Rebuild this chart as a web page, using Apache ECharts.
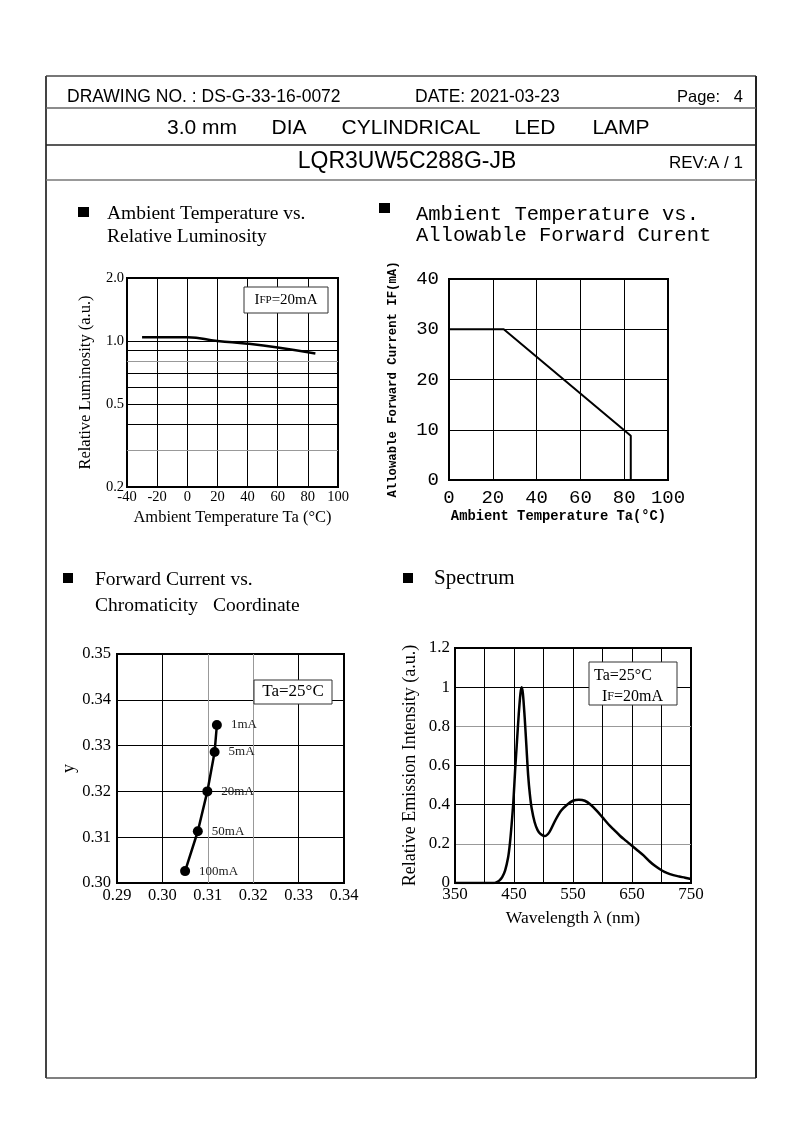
<!DOCTYPE html>
<html><head><meta charset="utf-8">
<script src="https://cdn.jsdelivr.net/npm/echarts@6/dist/echarts.min.js"></script>
<style>html,body{margin:0;padding:0;background:#fff}#c{width:794px;height:1123px}</style>
</head><body><div id="c"></div>
<script>
// ---- Chart 1: Ambient Temperature vs. Relative Luminosity ----
const lumTemp = [-30, 0, 20, 40, 60, 85];
const lumValue = [1.04, 1.04, 1.0, 0.97, 0.93, 0.87];
const lumTickLabels = [0.2, 0.5, 1.0, 2.0];
const lumGridDark = [0.4, 0.5, 0.6, 0.7, 0.9, 1.0];
const lumGridLight = [0.3, 0.8];
// ---- Chart 2: Ambient Temperature vs. Allowable Forward Current ----
const derateTemp = [0, 25, 83, 83];
const derateCurrent = [30, 30, 8.8, 0];
// ---- Chart 3: Forward Current vs. Chromaticity Coordinate ----
const chromaX = [0.3120, 0.3115, 0.3099, 0.3078, 0.3050];
const chromaY = [0.3345, 0.3286, 0.3200, 0.3113, 0.3026];
const chromaCurrent = ['1mA', '5mA', '20mA', '50mA', '100mA'];
// ---- Chart 4: Spectrum ----
const wavelength = [350, 400, 415, 420, 425, 430, 435, 440, 443, 446, 449, 452, 455, 458, 461, 463, 465, 468, 471, 474, 477, 480, 485, 490, 495, 502, 510, 520, 530, 540, 550, 560, 570, 580, 590, 600, 610, 620, 630, 640, 650, 660, 670, 680, 690, 700, 710, 720, 730, 740, 750];
const intensity = [0, 0, 0, 0.003, 0.012, 0.03, 0.065, 0.13, 0.2, 0.3, 0.42, 0.58, 0.72, 0.86, 0.97, 1.0, 0.97, 0.85, 0.7, 0.55, 0.45, 0.38, 0.31, 0.27, 0.25, 0.24, 0.26, 0.32, 0.37, 0.40, 0.42, 0.425, 0.42, 0.40, 0.37, 0.335, 0.30, 0.27, 0.24, 0.215, 0.19, 0.165, 0.14, 0.11, 0.085, 0.065, 0.05, 0.04, 0.033, 0.027, 0.02];

const SERIF = "'Liberation Serif','Times New Roman',serif";
const MONO = "'Liberation Mono','Courier New',monospace";
const SANS = "'Liberation Sans',Arial,sans-serif";
const zip = (a, b) => a.map((v, i) => [v, b[i]]);

const chart = echarts.init(document.getElementById('c'), null, {renderer: 'canvas'});

function gridBox(left, top, width, height) {
  return {left, top, width, height, show: true, borderColor: '#000', borderWidth: 2, backgroundColor: '#fff', containLabel: false, outerBoundsMode: 'none'};
}
const noLine = {show: false};

const fr = (x1, y1, x2, y2, color, w) => ({type: 'line', shape: {x1, y1, x2, y2}, style: {stroke: color, lineWidth: w}, silent: true, z: 50});
const txt = (text, x, y, font, align, extra) => Object.assign({type: 'text', x, y, style: {text, font, fill: '#000', align: align || 'left', verticalAlign: 'middle'}, silent: true, z: 60}, extra || {});
const box = (x, y, w, h) => ({type: 'rect', shape: {x, y, width: w, height: h}, style: {fill: '#fff', stroke: '#333', lineWidth: 1}, silent: true, z: 90});

const option = {
  animation: false,
  backgroundColor: '#fff',
  grid: [
    gridBox(127, 278, 211, 209),
    gridBox(449, 279, 219, 201),
    gridBox(117, 654, 227, 229),
    gridBox(455, 648, 236, 235)
  ],
  xAxis: [
    {type: 'value', gridIndex: 0, min: -40, max: 100, interval: 20,
     axisLine: noLine, axisTick: noLine,
     axisLabel: {color: '#000', fontFamily: SERIF, fontSize: 14.5, margin: 3},
     splitLine: {show: true, lineStyle: {color: '#000', width: 1}},
     name: 'Ambient Temperature Ta (°C)', nameLocation: 'middle', nameGap: 22,
     nameTextStyle: {color: '#000', fontFamily: SERIF, fontSize: 16.5}},
    {type: 'value', gridIndex: 1, min: 0, max: 100, interval: 20,
     axisLine: noLine, axisTick: noLine,
     axisLabel: {color: '#000', fontFamily: MONO, fontSize: 19, margin: 8},
     splitLine: {show: true, lineStyle: {color: '#000', width: 1}},
     name: 'Ambient Temperature Ta(°C)', nameLocation: 'middle', nameGap: 30,
     nameTextStyle: {color: '#000', fontFamily: MONO, fontSize: 13.8, fontWeight: 'bold'}},
    {type: 'value', gridIndex: 2, min: 0.29, max: 0.34, interval: 0.01,
     axisLine: noLine, axisTick: noLine,
     axisLabel: {color: '#000', fontFamily: SERIF, fontSize: 16.5, margin: 4, formatter: v => v.toFixed(2)},
     splitLine: {show: true, lineStyle: {color: ['#000', '#000', '#999', '#999', '#000', '#000'], width: 1}}},
    {type: 'value', gridIndex: 3, min: 350, max: 750, interval: 50,
     axisLine: noLine, axisTick: noLine,
     axisLabel: {color: '#000', fontFamily: SERIF, fontSize: 17, margin: 3, formatter: v => ((v - 350) % 100 === 0 ? String(v) : '')},
     splitLine: {show: true, lineStyle: {color: '#000', width: 1}},
     name: 'Wavelength λ (nm)', nameLocation: 'middle', nameGap: 26,
     nameTextStyle: {color: '#000', fontFamily: SERIF, fontSize: 17.5}}
  ],
  yAxis: [
    {type: 'log', gridIndex: 0, min: 0.2, max: 2, logBase: 10,
     axisLine: noLine, axisTick: noLine, axisLabel: {show: false}, splitLine: {show: false},
     name: 'Relative Luminosity (a.u.)', nameLocation: 'middle', nameRotate: 90, nameGap: 33,
     nameTextStyle: {color: '#000', fontFamily: SERIF, fontSize: 16.5}},
    {type: 'value', gridIndex: 1, min: 0, max: 40, interval: 10,
     axisLine: noLine, axisTick: noLine,
     axisLabel: {color: '#000', fontFamily: MONO, fontSize: 19, margin: 10},
     splitLine: {show: true, lineStyle: {color: '#000', width: 1}},
     name: 'Allowable Forward Current IF(mA)', nameLocation: 'middle', nameRotate: 90, nameGap: 50,
     nameTextStyle: {color: '#000', fontFamily: MONO, fontSize: 12.3, fontWeight: 'bold'}},
    {type: 'value', gridIndex: 2, min: 0.30, max: 0.35, interval: 0.01,
     axisLine: noLine, axisTick: noLine,
     axisLabel: {color: '#000', fontFamily: SERIF, fontSize: 16.5, margin: 6, formatter: v => v.toFixed(2)},
     splitLine: {show: true, lineStyle: {color: '#000', width: 1}},
     name: 'y', nameLocation: 'middle', nameRotate: 90, nameGap: 39,
     nameTextStyle: {color: '#000', fontFamily: SERIF, fontSize: 18}},
    {type: 'value', gridIndex: 3, min: 0, max: 1.2, interval: 0.2,
     axisLine: noLine, axisTick: noLine,
     axisLabel: {color: '#000', fontFamily: SERIF, fontSize: 17, margin: 5, formatter: v => String(parseFloat(v.toFixed(1)))},
     splitLine: {show: true, lineStyle: {color: ['#000', '#999', '#000', '#000', '#999', '#000', '#000'], width: 1}},
     name: 'Relative Emission Intensity (a.u.)', nameLocation: 'middle', nameRotate: 90, nameGap: 36,
     nameTextStyle: {color: '#000', fontFamily: SERIF, fontSize: 18}}
  ],
  series: [
    {type: 'line', xAxisIndex: 0, yAxisIndex: 0, data: zip(lumTemp, lumValue), smooth: true,
     symbol: 'none', lineStyle: {color: '#000', width: 2.5}, z: 5,
     markLine: {silent: true, symbol: ['none', 'none'], animation: false, z: 3,
       label: {show: false},
       data: [
         ...lumGridDark.map(v => ({yAxis: v, lineStyle: {color: '#000', width: 1, type: 'solid'}})),
         ...lumGridLight.map(v => ({yAxis: v, lineStyle: {color: '#999', width: 1, type: 'solid'}})),
         ...lumTickLabels.map(v => ({yAxis: v, lineStyle: {color: 'rgba(0,0,0,0)', width: 1, type: 'solid'},
           label: {show: true, position: 'start', distance: 3, formatter: v.toFixed(1), color: '#000', fontFamily: SERIF, fontSize: 14.5}}))
       ]}},
    {type: 'line', xAxisIndex: 1, yAxisIndex: 1, data: zip(derateTemp, derateCurrent),
     symbol: 'none', lineStyle: {color: '#000', width: 2}},
    {type: 'line', xAxisIndex: 2, yAxisIndex: 2, data: zip(chromaX, chromaY),
     symbol: 'circle', symbolSize: 10, itemStyle: {color: '#000'}, lineStyle: {color: '#000', width: 2.5},
     label: {show: true, position: 'right', color: '#222', fontFamily: SERIF, fontSize: 13,
       formatter: p => chromaCurrent[p.dataIndex],
       distance: 9}},
    {type: 'line', xAxisIndex: 3, yAxisIndex: 3, data: zip(wavelength, intensity), smooth: 0.3,
     symbol: 'none', lineStyle: {color: '#000', width: 2.5}}
  ],
  graphic: {elements: [
    // page frame
    fr(46, 76, 756, 76, '#777', 2),
    fr(46, 1078, 756, 1078, '#808080', 2),
    fr(46, 76, 46, 1078, '#444', 2),
    fr(756, 76, 756, 1078, '#222', 2),
    fr(46, 108, 756, 108, '#666', 1.5),
    fr(46, 145, 756, 145, '#222', 1.5),
    fr(46, 180, 756, 180, '#777', 1.5),
    // header
    txt('DRAWING NO. : DS-G-33-16-0072', 67, 97, '17.5px ' + SANS),
    txt('DATE: 2021-03-23', 415, 97, '17.5px ' + SANS),
    txt('Page:   4', 743, 97, '16.5px ' + SANS, 'right'),
    txt('3.0 mm', 202, 128, '21px ' + SANS, 'center'),
    txt('DIA', 289, 128, '21px ' + SANS, 'center'),
    txt('CYLINDRICAL', 411, 128, '21px ' + SANS, 'center'),
    txt('LED', 535, 128, '21px ' + SANS, 'center'),
    txt('LAMP', 621, 128, '21px ' + SANS, 'center'),
    txt('LQR3UW5C288G-JB', 407, 162, '23px ' + SANS, 'center'),
    txt('REV:A / 1', 743, 163, '17px ' + SANS, 'right'),
    // chart titles
    {type: 'rect', shape: {x: 78, y: 207, width: 11, height: 10}, style: {fill: '#000'}, silent: true},
    txt('Ambient Temperature vs.', 107, 214, '19.5px ' + SERIF),
    txt('Relative Luminosity', 107, 237, '19.5px ' + SERIF),
    {type: 'rect', shape: {x: 379, y: 203, width: 11, height: 10}, style: {fill: '#000'}, silent: true},
    txt('Ambient Temperature vs.', 416, 215, '20.5px ' + MONO),
    txt('Allowable Forward Curent', 416, 236, '20.5px ' + MONO),
    {type: 'rect', shape: {x: 63, y: 573, width: 10, height: 10}, style: {fill: '#000'}, silent: true},
    txt('Forward Current vs.', 95, 580, '19.5px ' + SERIF),
    txt('Chromaticity', 95, 606, '19.5px ' + SERIF),
    txt('Coordinate', 213, 606, '19.5px ' + SERIF),
    {type: 'rect', shape: {x: 403, y: 573, width: 10, height: 10}, style: {fill: '#000'}, silent: true},
    txt('Spectrum', 434, 578, '21px ' + SERIF),
    // annotation boxes
    box(244, 287, 84, 26),
    {type: 'text', x: 286, y: 300, silent: true, z: 95,
     style: {text: '{a|I}{b|FP}{a|=20mA}', align: 'center', verticalAlign: 'middle', fill: '#000',
       rich: {a: {fontFamily: SERIF, fontSize: 15, fill: '#000'}, b: {fontFamily: SERIF, fontSize: 11, fill: '#000'}}}},
    box(254, 680, 78, 24),
    txt('Ta=25°C', 293, 692, '17px ' + SERIF, 'center', {z: 95}),
    box(589, 662, 88, 43),
    txt('Ta=25°C', 594, 676, '16px ' + SERIF, 'left', {z: 95}),
    {type: 'text', x: 602, y: 697, silent: true, z: 95,
     style: {text: '{a|I}{b|F}{a|=20mA}', align: 'left', verticalAlign: 'middle', fill: '#000',
       rich: {a: {fontFamily: SERIF, fontSize: 16, fill: '#000'}, b: {fontFamily: SERIF, fontSize: 12, fill: '#000'}}}}
  ]}
};
chart.setOption(option);
</script>
</body></html>
